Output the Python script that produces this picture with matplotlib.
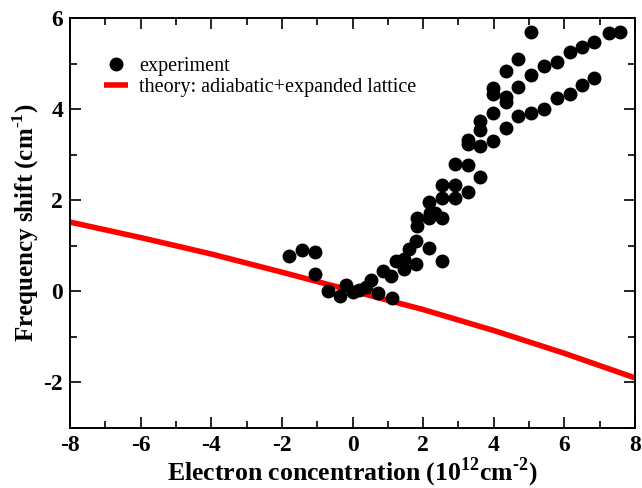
import matplotlib
matplotlib.use("Agg")
import matplotlib.pyplot as plt
from matplotlib.ticker import MultipleLocator

# experiment data
exp_x = [-1.79, -1.44, -1.07, -1.07, -0.70, -0.35, -0.18, 0.00, 0.19, 0.38,
         0.51, 0.73, 0.87, 1.10, 1.11, 1.24, 1.46, 1.46, 1.60, 1.81,
         1.81, 1.82, 1.82, 2.18, 2.18, 2.20, 2.34, 2.18, 2.53, 2.53,
         2.53, 2.53, 2.90, 2.90, 2.90, 3.26, 3.26, 3.26, 3.26, 3.61,
         3.61, 3.61, 3.61, 3.97, 3.97, 3.97, 3.97, 4.35, 4.35, 4.35,
         4.35, 4.70, 4.70, 4.70, 5.06, 5.06, 5.06, 5.43, 5.43, 5.78,
         5.78, 6.16, 6.16, 6.51, 6.51, 6.85, 6.85, 7.25, 7.58]
exp_y = [0.77, 0.91, 0.87, 0.39, 0.00, -0.11, 0.13, -0.02, 0.02, 0.10,
         0.24, -0.04, 0.45, 0.33, -0.14, 0.67, 0.70, 0.50, 0.94, 1.10,
         0.60, 1.44, 1.61, 0.96, 1.61, 1.72, 1.72, 1.97, 0.66, 1.61,
         2.05, 2.34, 2.04, 2.34, 2.79, 2.17, 2.78, 3.24, 3.32, 2.52,
         3.20, 3.54, 3.75, 3.29, 3.91, 4.33, 4.46, 3.58, 4.16, 4.27,
         4.84, 3.85, 4.48, 5.10, 3.91, 4.75, 5.70, 4.00, 4.95, 4.25,
         5.04, 4.33, 5.25, 4.53, 5.36, 4.68, 5.48, 5.66, 5.70]

# theory curve
th_x = [-8, -6, -4, -2, 0, 2, 4, 6, 8]
th_y = [1.52, 1.18, 0.82, 0.42, 0.01, -0.40, -0.86, -1.36, -1.90]

plt.rcParams['font.family'] = ['Liberation Serif', 'DejaVu Serif']
plt.rcParams['axes.unicode_minus'] = False
plt.rcParams['mathtext.fontset'] = 'custom'
plt.rcParams['mathtext.rm'] = 'Liberation Serif'
plt.rcParams['mathtext.bf'] = 'Liberation Serif:bold'

fig = plt.figure(figsize=(6.42, 4.88), dpi=100)
ax = fig.add_axes([70/642, 60/488, 565/642, 410/488])

ax.plot(th_x, th_y, color='#ff0000', lw=4, solid_capstyle='butt',
        label='theory: adiabatic+expanded lattice', zorder=2)
ax.plot(exp_x, exp_y, 'o', color='black', ms=9, ls='none',
        label='experiment', zorder=3)

ax.set_xlim(-8, 8)
ax.set_ylim(-3, 6)
ax.xaxis.set_major_locator(MultipleLocator(2))
ax.xaxis.set_minor_locator(MultipleLocator(1))
ax.yaxis.set_major_locator(MultipleLocator(2))
ax.yaxis.set_minor_locator(MultipleLocator(1))
ax.tick_params(which='both', direction='in', top=True, right=True, width=1.2)
ax.tick_params(which='major', length=8, labelsize=17, pad=5)
ax.tick_params(which='minor', length=5)
for lab in ax.get_xticklabels() + ax.get_yticklabels():
    lab.set_fontweight('bold')
for sp in ax.spines.values():
    sp.set_linewidth(1.4)

ax.set_xlabel('Electron concentration (10$^{\\mathbf{12}}$cm$^{\\mathbf{\u20102}}$)',
              fontsize=18.5, fontweight='bold', labelpad=0)
ax.set_ylabel(r'Frequency shift (cm$^{\mathbf{\u20101}}$)'.replace('\\u2010', '\u2010'),
              fontsize=18, fontweight='bold', labelpad=2)

h, l = ax.get_legend_handles_labels()
ax.legend([h[1], h[0]], [l[1], l[0]], loc='upper left',
          bbox_to_anchor=(0.046, 0.925), frameon=False, fontsize=14.5,
          handlelength=1.2, handletextpad=0.55, labelspacing=0.1,
          borderaxespad=0)

fig.savefig('out.png', dpi=100)
